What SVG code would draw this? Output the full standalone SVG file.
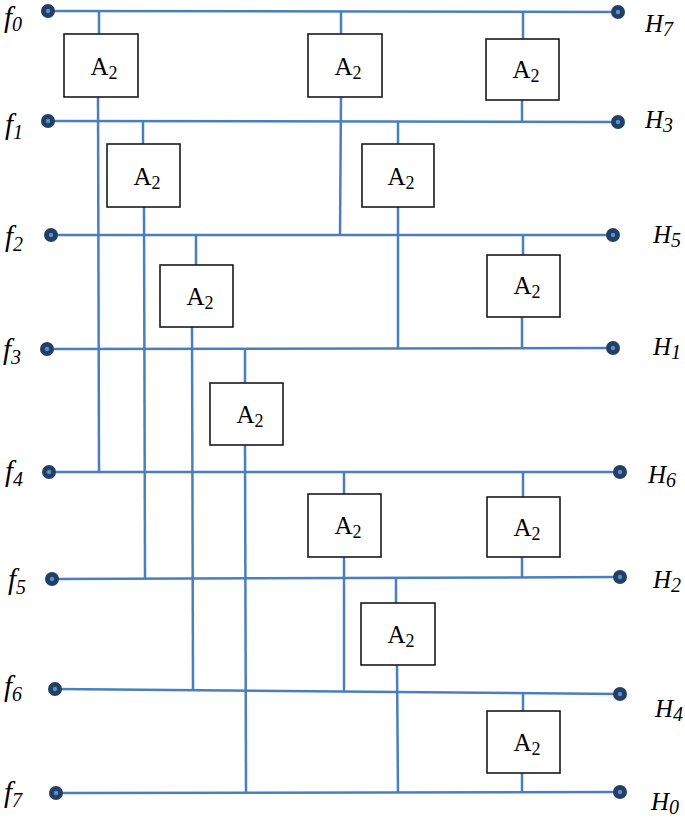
<svg xmlns="http://www.w3.org/2000/svg" width="685" height="818" viewBox="0 0 685 818">
<style>
.w{stroke:#4a7ebf;stroke-width:2.5;fill:none}
.b{fill:#fff;stroke:#1a1a1a;stroke-width:1.6}
.a{font-family:"Liberation Serif",serif;font-size:25px;fill:#000;text-anchor:middle}
.s{font-size:18px}
.lf{font-family:"Liberation Serif",serif;font-style:italic;font-size:29px;fill:#000}
.lh{font-family:"Liberation Serif",serif;font-style:italic;font-size:25px;fill:#000}
.ls{font-size:20px}
</style>
<defs>
<g id="dot"><circle r="7" fill="#243f66"/><circle r="2.2" fill="#5a8fd0"/></g>
</defs>
<g id="connectors">
<line class="w" x1="48" y1="11" x2="618" y2="12"/>
<line class="w" x1="48" y1="121" x2="618" y2="122"/>
<line class="w" x1="51" y1="235" x2="613" y2="235"/>
<line class="w" x1="47" y1="349" x2="613" y2="348"/>
<line class="w" x1="49" y1="472" x2="620" y2="472"/>
<line class="w" x1="52" y1="579" x2="620" y2="577"/>
<line class="w" x1="55" y1="689" x2="620" y2="694"/>
<line class="w" x1="56" y1="793" x2="620" y2="792"/>
<line class="w" x1="99" y1="11" x2="99" y2="34"/>
<line class="w" x1="98" y1="97" x2="99" y2="472"/>
<line class="w" x1="143" y1="121" x2="143" y2="144"/>
<line class="w" x1="144" y1="207" x2="145" y2="579"/>
<line class="w" x1="196" y1="235" x2="196" y2="265"/>
<line class="w" x1="192" y1="327" x2="193" y2="690"/>
<line class="w" x1="245" y1="348" x2="245" y2="383"/>
<line class="w" x1="245" y1="445" x2="246" y2="793"/>
<line class="w" x1="341" y1="11" x2="341" y2="34"/>
<line class="w" x1="341" y1="97" x2="340" y2="236"/>
<line class="w" x1="398" y1="121" x2="398" y2="144"/>
<line class="w" x1="398" y1="207" x2="398" y2="349"/>
<line class="w" x1="523" y1="12" x2="523" y2="39"/>
<line class="w" x1="522" y1="100" x2="522" y2="122"/>
<line class="w" x1="523" y1="235" x2="523" y2="255"/>
<line class="w" x1="522" y1="317" x2="522" y2="348"/>
<line class="w" x1="344" y1="472" x2="344" y2="494"/>
<line class="w" x1="344" y1="557" x2="344" y2="691"/>
<line class="w" x1="523" y1="472" x2="523" y2="497"/>
<line class="w" x1="522" y1="557" x2="522" y2="577"/>
<line class="w" x1="396" y1="578" x2="396" y2="603"/>
<line class="w" x1="397" y1="665" x2="398" y2="793"/>
<line class="w" x1="523" y1="692" x2="523" y2="711"/>
<line class="w" x1="522" y1="773" x2="522" y2="792"/>
</g>
<g id="b1"><rect class="b" x="64" y="34" width="74" height="63"/><text class="a" x="104" y="75">A<tspan class="s" dy="4">2</tspan></text></g>
<g id="b2"><rect class="b" x="107" y="144" width="73" height="63"/><text class="a" x="147" y="185">A<tspan class="s" dy="4">2</tspan></text></g>
<g id="b3"><rect class="b" x="160" y="265" width="73" height="62"/><text class="a" x="200" y="305">A<tspan class="s" dy="4">2</tspan></text></g>
<g id="b4"><rect class="b" x="210" y="383" width="73" height="62"/><text class="a" x="250" y="423">A<tspan class="s" dy="4">2</tspan></text></g>
<g id="b5"><rect class="b" x="308" y="34" width="74" height="63"/><text class="a" x="348" y="75">A<tspan class="s" dy="4">2</tspan></text></g>
<g id="b6"><rect class="b" x="362" y="144" width="72" height="63"/><text class="a" x="401" y="185">A<tspan class="s" dy="4">2</tspan></text></g>
<g id="b7"><rect class="b" x="486" y="39" width="73" height="61"/><text class="a" x="526" y="78">A<tspan class="s" dy="4">2</tspan></text></g>
<g id="b8"><rect class="b" x="487" y="255" width="73" height="62"/><text class="a" x="527" y="294">A<tspan class="s" dy="4">2</tspan></text></g>
<g id="b9"><rect class="b" x="308" y="494" width="73" height="63"/><text class="a" x="348" y="534">A<tspan class="s" dy="4">2</tspan></text></g>
<g id="b10"><rect class="b" x="487" y="497" width="73" height="60"/><text class="a" x="527" y="536">A<tspan class="s" dy="4">2</tspan></text></g>
<g id="b11"><rect class="b" x="361" y="603" width="74" height="62"/><text class="a" x="401" y="643">A<tspan class="s" dy="4">2</tspan></text></g>
<g id="b12"><rect class="b" x="487" y="711" width="73" height="62"/><text class="a" x="527" y="751">A<tspan class="s" dy="4">2</tspan></text></g>
<g id="inputs">
<use href="#dot" x="48" y="11"/><use href="#dot" x="48" y="121"/><use href="#dot" x="51" y="235"/><use href="#dot" x="47" y="349"/>
<use href="#dot" x="49" y="472"/><use href="#dot" x="52" y="579"/><use href="#dot" x="55" y="689"/><use href="#dot" x="56" y="793"/>
<text class="lf" x="4" y="27">f<tspan class="ls" dy="4">0</tspan></text>
<text class="lf" x="5" y="134">f<tspan class="ls" dy="5">1</tspan></text>
<text class="lf" x="5" y="246">f<tspan class="ls" dy="5">2</tspan></text>
<text class="lf" x="3" y="359">f<tspan class="ls" dy="5">3</tspan></text>
<text class="lf" x="5" y="481">f<tspan class="ls" dy="5">4</tspan></text>
<text class="lf" x="8" y="589">f<tspan class="ls" dy="5">5</tspan></text>
<text class="lf" x="4" y="696">f<tspan class="ls" dy="5">6</tspan></text>
<text class="lf" x="4" y="802">f<tspan class="ls" dy="5">7</tspan></text>
</g>
<g id="outputs">
<use href="#dot" x="618" y="12"/><use href="#dot" x="618" y="122"/><use href="#dot" x="613" y="235"/><use href="#dot" x="613" y="348"/>
<use href="#dot" x="620" y="472"/><use href="#dot" x="620" y="577"/><use href="#dot" x="620" y="694"/><use href="#dot" x="620" y="792"/>
<text class="lh" x="645" y="32">H<tspan class="ls" dy="4">7</tspan></text>
<text class="lh" x="645" y="128">H<tspan class="ls" dy="4">3</tspan></text>
<text class="lh" x="653" y="243">H<tspan class="ls" dy="4">5</tspan></text>
<text class="lh" x="653" y="355">H<tspan class="ls" dy="4">1</tspan></text>
<text class="lh" x="648" y="483">H<tspan class="ls" dy="4">6</tspan></text>
<text class="lh" x="653" y="588">H<tspan class="ls" dy="4">2</tspan></text>
<text class="lh" x="655" y="717">H<tspan class="ls" dy="4">4</tspan></text>
<text class="lh" x="651" y="810">H<tspan class="ls" dy="4">0</tspan></text>
</g>
</svg>
